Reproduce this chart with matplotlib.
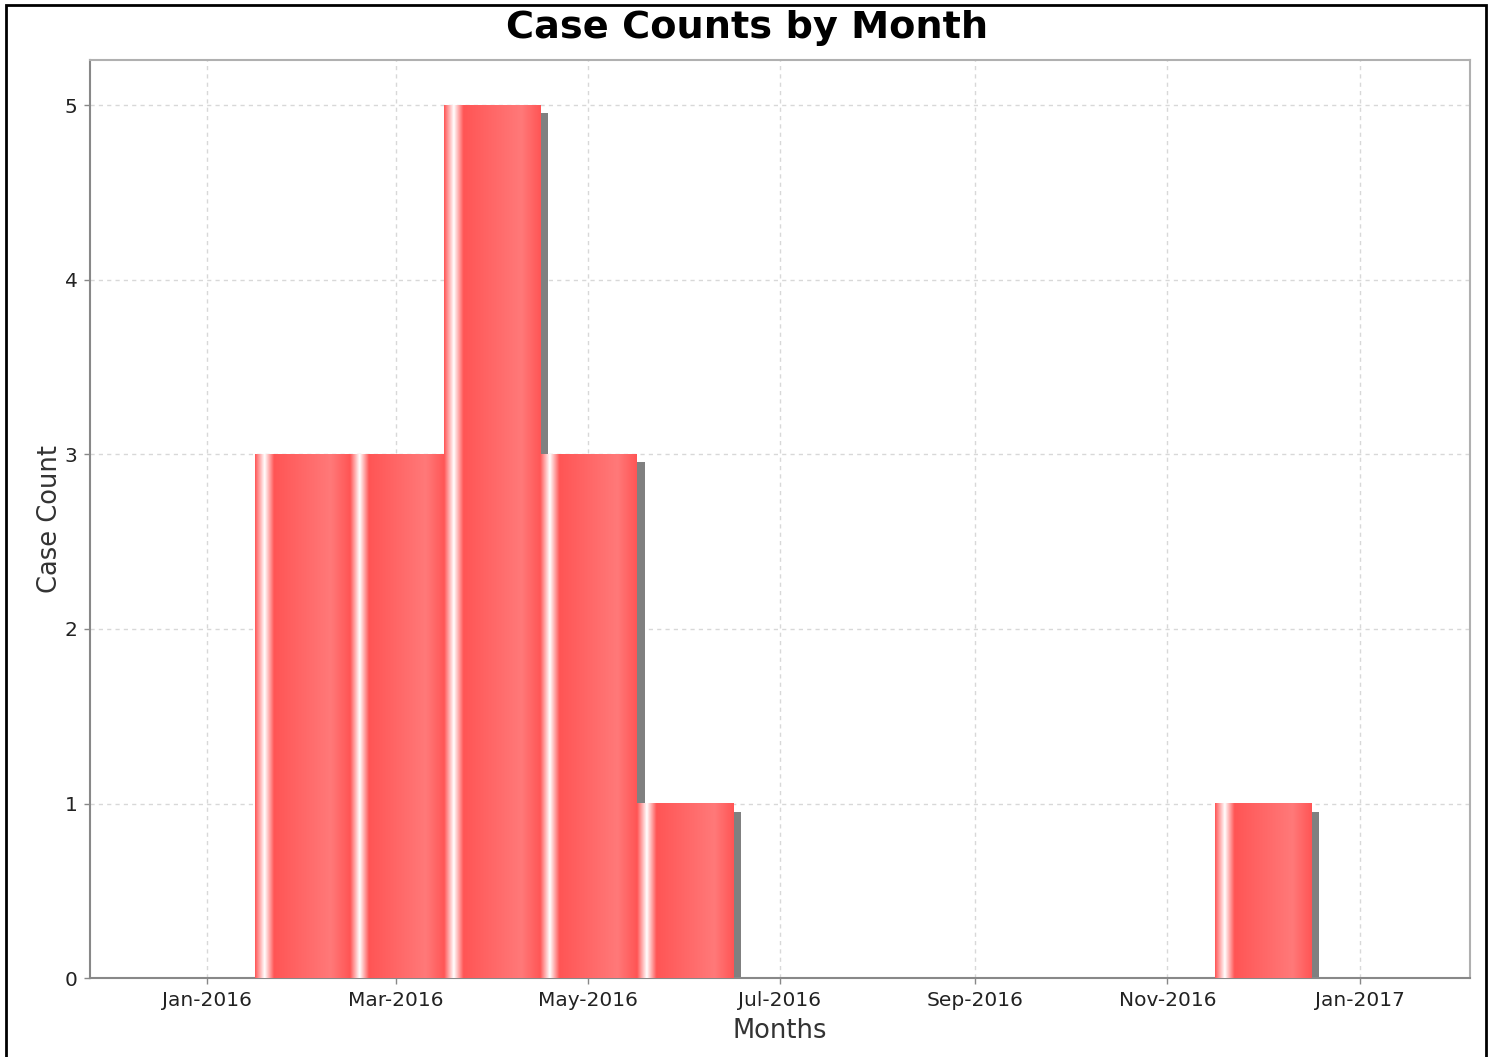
import numpy as np
import matplotlib
matplotlib.use("Agg")
import matplotlib.pyplot as plt
import matplotlib.dates as mdates
import matplotlib.transforms as mtransforms
from matplotlib.patches import Rectangle
from datetime import date

# data
months = ["2016-02", "2016-03", "2016-04", "2016-05", "2016-06", "2016-12"]
counts = [3, 3, 5, 3, 1, 1]
x_start, x_end = date(2015, 11, 25), date(2017, 2, 5)
y_ticks = [0, 1, 2, 3, 4, 5]

# each bar is centered on the month start, edges halfway to the neighbour months
starts = np.array(months, dtype="datetime64[M]")
centers = mdates.date2num(starts.astype("datetime64[D]"))
prev_m = mdates.date2num((starts - 1).astype("datetime64[D]"))
next_m = mdates.date2num((starts + 1).astype("datetime64[D]"))
lefts = (prev_m + centers) / 2
rights = (centers + next_m) / 2

plt.rcParams["font.family"] = ["DejaVu Sans"]

fig = plt.figure(figsize=(14.94, 10.57), dpi=100)
ax = fig.add_axes([0.0602, 0.0747, 0.9237, 0.8685])

# shadows (offset a few pixels right/down)
shadow_tr = mtransforms.offset_copy(ax.transData, fig=fig, x=8, y=-8, units="dots")
shadows = ax.bar(lefts, counts, width=rights - lefts, align="edge",
                 color="#808080", linewidth=0, zorder=1)
for s in shadows:
    s.set_transform(shadow_tr)

bars = ax.bar(lefts, counts, width=rights - lefts, align="edge",
              color="#ff5555", linewidth=0, zorder=2)

# jfreechart-like gradient bar painter
stops = [0, 0.1, 0.2, 0.8, 1.0]
cols = np.array([[255, 85, 85], [255, 255, 255], [255, 85, 85],
                 [255, 121, 121], [255, 85, 85]]) / 255
t = np.linspace(0, 1, 300)
grad = np.stack([np.interp(t, stops, cols[:, k]) for k in range(3)], axis=-1)[None]
for b in bars:
    x0, w, h = b.get_x(), b.get_width(), b.get_height()
    ax.imshow(grad, extent=(x0, x0 + w, 0, h), aspect="auto",
              interpolation="bilinear", zorder=3)

ax.set_xlim(mdates.date2num(x_start), mdates.date2num(x_end))
ax.set_ylim(0, 5.26)
ax.xaxis.set_major_locator(mdates.MonthLocator(bymonth=[1, 3, 5, 7, 9, 11]))
ax.xaxis.set_major_formatter(mdates.DateFormatter("%b-%Y"))
ax.set_yticks(y_ticks)

ax.set_axisbelow(True)
ax.grid(True, color="#d8d8d8", linestyle=(0, (3, 3)), linewidth=1)
for sp in ax.spines.values():
    sp.set_color("#b0b0b0")
    sp.set_linewidth(1.5)
ax.spines["left"].set_color("#888888")
ax.spines["bottom"].set_color("#888888")
ax.tick_params(direction="out", length=4, width=1, color="#888888",
               labelsize=14.5, labelcolor="#222222", pad=5)

ax.set_xlabel("Months", fontsize=18.5, color="#333333", labelpad=6)
ax.set_ylabel("Case Count", fontsize=18.5, color="#333333", labelpad=1)
fig.text(0.5, 0.9735, "Case Counts by Month", ha="center", va="center",
         fontsize=27.5, fontweight="bold")

fig.patches.append(Rectangle((6 / 1494, -0.01), 1480 / 1494, 1.0053,
                             transform=fig.transFigure, fill=False,
                             edgecolor="black", linewidth=2))

fig.savefig("out.png", dpi=100)
